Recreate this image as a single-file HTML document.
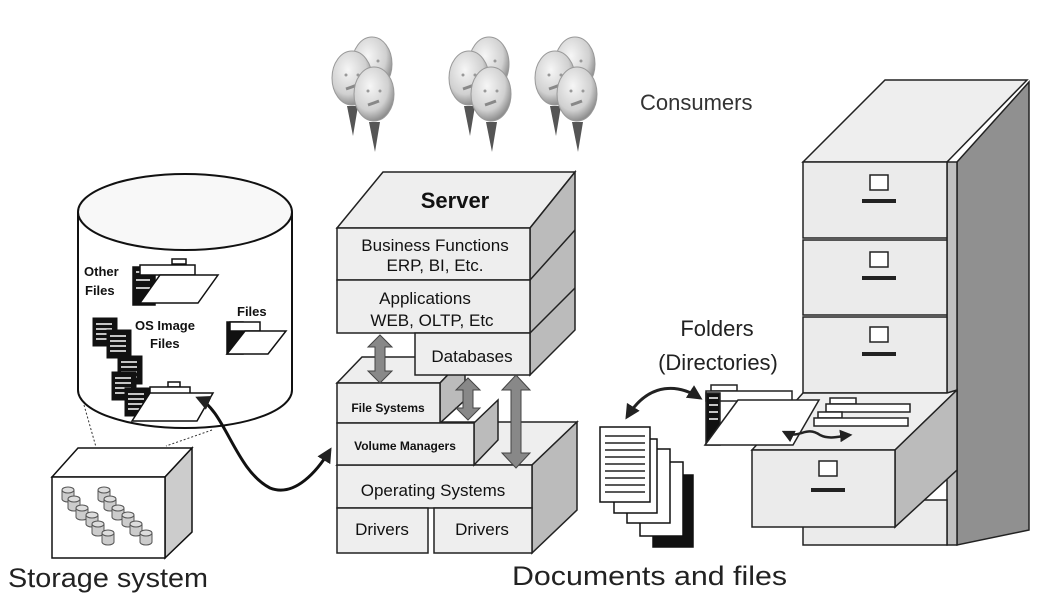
<!DOCTYPE html>
<html><head><meta charset="utf-8"><style>
html,body{margin:0;padding:0;background:#fff;}
svg{display:block;font-family:"Liberation Sans",Arial,sans-serif;}
</style></head><body>
<svg width="1057" height="608" viewBox="0 0 1057 608" xmlns="http://www.w3.org/2000/svg">
<defs>
<radialGradient id="bal" cx="40%" cy="35%" r="70%">
<stop offset="0" stop-color="#f6f6f6"/><stop offset="0.65" stop-color="#d0d0d0"/><stop offset="1" stop-color="#808080"/>
</radialGradient>
<marker id="ah" viewBox="0 0 10 10" refX="8" refY="5" markerWidth="5" markerHeight="5" orient="auto-start-reverse">
<path d="M0,0 L10,5 L0,10 z" fill="#222"/></marker>
<g id="balloon">
<path d="M-5,28 L1,58 L6,28 z" fill="#555"/>
<ellipse cx="0" cy="0" rx="20" ry="27" fill="url(#bal)" stroke="#999" stroke-width="1"/>
<circle cx="-6" cy="-3" r="1.5" fill="#999"/><circle cx="6" cy="-3" r="1.5" fill="#999"/>
<path d="M-6,11 Q0,9 5,7" stroke="#888" stroke-width="3" fill="none"/>
</g>
<g id="grp">
<use href="#balloon" x="42" y="14"/>
<use href="#balloon" x="22" y="28"/>
<use href="#balloon" x="44" y="44"/>
</g>
<g id="can"><path d="M0,3 v9 a6,3 0 0 0 12,0 v-9" fill="#ccc" stroke="#555"/><ellipse cx="6" cy="3" rx="6" ry="3" fill="#ddd" stroke="#555"/></g>
<g id="doc"><rect width="24" height="28" fill="#111" stroke="#111"/><path d="M3,6h16M3,11h16M3,16h16M3,21h16" stroke="#fff" stroke-width="1.5"/></g>
</defs>

<use href="#grp" x="330" y="50"/>
<use href="#grp" x="447" y="50"/>
<use href="#grp" x="533" y="50"/>
<text x="640" y="110" font-size="22" fill="#333">Consumers</text>

<!-- cylinder -->
<path d="M78,212 V390 A107,38 0 0 0 292,390 V212" fill="#fff" stroke="#111" stroke-width="2"/>
<ellipse cx="185" cy="212" rx="107" ry="38" fill="#f8f8f8" stroke="#111" stroke-width="2"/>
<g stroke="#111" stroke-width="1.5">
<rect x="172" y="259" width="14" height="5" fill="#fff"/>
<rect x="133" y="267" width="22" height="38" fill="#111"/>
<path d="M136,272h14M136,280h14M136,288h14" stroke="#fff"/>
<rect x="140" y="265" width="55" height="10" fill="#fff"/>
<path d="M140,303 L160,275 L218,275 L198,303 z" fill="#fff"/>
</g>
<use href="#doc" x="93" y="318"/>
<use href="#doc" x="107" y="330"/>
<use href="#doc" x="118" y="356"/>
<use href="#doc" x="112" y="372"/>
<use href="#doc" x="125" y="388"/>
<g stroke="#111" stroke-width="1.5">
<rect x="168" y="382" width="12" height="5" fill="#fff"/>
<rect x="150" y="387" width="40" height="8" fill="#fff"/>
<path d="M132,421 L150,393 L213,393 L197,421 z" fill="#fff"/>
<rect x="227" y="322" width="16" height="32" fill="#111"/>
<rect x="230" y="322" width="30" height="9" fill="#fff"/>
<path d="M227,354 L245,331 L286,331 L268,354 z" fill="#fff"/>
</g>
<g font-weight="bold" font-size="13" fill="#111">
<text x="84" y="276">Other</text><text x="85" y="295">Files</text>
<text x="135" y="330">OS Image</text><text x="150" y="348">Files</text>
<text x="237" y="316">Files</text>
</g>
<path d="M84,405 L96,447 M212,430 L166,446" stroke="#333" stroke-dasharray="2,2" fill="none"/>
<path d="M52,477 L78,448 L192,448 L165,477 z" fill="#fff" stroke="#111" stroke-width="1.5"/>
<path d="M165,477 L192,448 L192,532 L165,558 z" fill="#ccc" stroke="#111" stroke-width="1.5"/>
<rect x="52" y="477" width="113" height="81" fill="#fff" stroke="#111" stroke-width="1.5"/>
<use href="#can" x="62" y="487"/><use href="#can" x="68" y="496"/><use href="#can" x="76" y="505"/><use href="#can" x="86" y="512"/><use href="#can" x="92" y="521"/><use href="#can" x="102" y="530"/>
<use href="#can" x="98" y="487"/><use href="#can" x="104" y="496"/><use href="#can" x="112" y="505"/><use href="#can" x="122" y="512"/><use href="#can" x="130" y="521"/><use href="#can" x="140" y="530"/>
<text x="8" y="587" font-size="27" fill="#222" textLength="200" lengthAdjust="spacingAndGlyphs">Storage system</text>

<path d="M198,398 C225,410 235,470 270,488 C295,498 318,470 330,450" fill="none" stroke="#111" stroke-width="3" marker-start="url(#ah)" marker-end="url(#ah)"/>

<g stroke="#222" stroke-width="1.5">
<path d="M337,465 L382,422 L577,422 L532,465 z" fill="#eee"/>
<path d="M532,465 L577,422 L577,510 L532,553 z" fill="#bbb"/>
<rect x="337" y="465" width="195" height="43" fill="#eee"/>
<rect x="337" y="508" width="91" height="45" fill="#eee"/>
<rect x="434" y="508" width="98" height="45" fill="#eee"/>
<path d="M337,383 L362,357 L465,357 L440,383 z" fill="#eee"/>
<path d="M440,383 L465,357 L465,400 L440,423 z" fill="#bbb"/>
<path d="M474,423 L498,400 L498,440 L474,465 z" fill="#bbb"/>
<rect x="337" y="383" width="103" height="40" fill="#eee"/>
<rect x="337" y="423" width="137" height="42" fill="#eee"/>
<path d="M337,228 L383,172 L575,172 L530,228 z" fill="#eee"/>
<path d="M530,228 L575,172 L575,330 L530,375 z" fill="#bbb"/>
<rect x="337" y="228" width="193" height="52" fill="#eee"/>
<rect x="337" y="280" width="193" height="53" fill="#eee"/>
<rect x="415" y="333" width="115" height="42" fill="#eee"/>
<path d="M530,280 L575,230 M530,333 L575,288" fill="none"/>
</g>
<g fill="#888" stroke="#444" stroke-width="1">
<path d="M380,335 L392,347 L385,347 L385,371 L392,371 L380,383 L368,371 L375,371 L375,347 L368,347 z"/>
<path d="M468,378 L480,390 L473,390 L473,408 L480,408 L468,420 L456,408 L463,408 L463,390 L456,390 z"/>
<path d="M516,375 L530,390 L521,390 L521,453 L530,453 L516,468 L502,453 L511,453 L511,390 L502,390 z"/>
</g>
<g fill="#111" text-anchor="middle">
<text x="455" y="208" font-size="22" font-weight="bold">Server</text>
<text x="435" y="251" font-size="17">Business Functions</text>
<text x="435" y="271" font-size="17">ERP, BI, Etc.</text>
<text x="425" y="304" font-size="17">Applications</text>
<text x="432" y="326" font-size="17">WEB, OLTP, Etc</text>
<text x="472" y="362" font-size="17">Databases</text>
<text x="388" y="412" font-size="12" font-weight="bold">File Systems</text>
<text x="405" y="450" font-size="12" font-weight="bold">Volume Managers</text>
<text x="433" y="496" font-size="17">Operating Systems</text>
<text x="382" y="535" font-size="17">Drivers</text>
<text x="482" y="535" font-size="17">Drivers</text>
</g>

<g stroke="#111" stroke-width="1.5">
<rect x="653" y="475" width="40" height="72" fill="#111"/>
<rect x="640" y="462" width="43" height="74" fill="#fff"/>
<rect x="627" y="449" width="43" height="74" fill="#fff"/>
<rect x="614" y="439" width="43" height="74" fill="#fff"/>
<rect x="600" y="427" width="50" height="75" fill="#fff"/>
</g>
<g stroke="#222" stroke-width="1.5">
<path d="M605,436h40M605,443h40M605,450h40M605,457h40M605,464h40M605,471h40M605,478h40M605,485h40M605,492h40"/>
</g>
<text x="512" y="585" font-size="27" fill="#222" textLength="275" lengthAdjust="spacingAndGlyphs">Documents and files</text>

<g stroke="#222" stroke-width="1.5">
<path d="M803,162 L885,80 L1027,80 L947,162 z" fill="#eee"/>
<path d="M957,162 L1029,82 L1029,530 L957,545 z" fill="#909090"/>
<rect x="947" y="162" width="10" height="383" fill="#c0c0c0"/>
<rect x="803" y="162" width="144" height="76" fill="#ebebeb"/>
<rect x="803" y="240" width="144" height="75" fill="#ebebeb"/>
<rect x="803" y="317" width="144" height="76" fill="#ebebeb"/>
<rect x="803" y="500" width="144" height="45" fill="#ebebeb"/>
<path d="M803,393 L947,393 L957,390 L895,450 L752,450 z" fill="#eee"/>
<path d="M895,450 L957,390 L957,470 L895,527 z" fill="#bbb"/>
<rect x="752" y="450" width="143" height="77" fill="#ebebeb"/>
<rect x="870" y="175" width="18" height="15" fill="#fff"/>
<rect x="870" y="252" width="18" height="15" fill="#fff"/>
<rect x="870" y="327" width="18" height="15" fill="#fff"/>
<rect x="819" y="461" width="18" height="15" fill="#fff"/>
<rect x="830" y="398" width="26" height="6" fill="#fff"/>
<rect x="826" y="404" width="84" height="8" fill="#fff"/>
<rect x="818" y="412" width="24" height="6" fill="#fff"/>
<rect x="814" y="418" width="94" height="8" fill="#fff"/>
<rect x="711" y="385" width="26" height="6" fill="#fff"/>
<rect x="706" y="391" width="86" height="10" fill="#fff"/>
<rect x="706" y="393" width="14" height="52" fill="#111"/>
<path d="M709,398h9M709,405h9M709,412h9M709,419h9" stroke="#fff"/>
<path d="M705,445 L738,400 L819,400 L793,445 z" fill="#fff"/>
</g>
<g fill="#222">
<rect x="862" y="199" width="34" height="4"/>
<rect x="862" y="276" width="34" height="4"/>
<rect x="862" y="352" width="34" height="4"/>
<rect x="811" y="488" width="34" height="4"/>
</g>
<path d="M627,417 C650,380 680,385 700,398" fill="none" stroke="#222" stroke-width="3" marker-start="url(#ah)" marker-end="url(#ah)"/>
<path d="M784,432 C800,440 805,425 820,435 C830,440 840,436 850,435" fill="none" stroke="#222" stroke-width="2.5" marker-start="url(#ah)" marker-end="url(#ah)"/>
<text x="717" y="336" font-size="22" fill="#222" text-anchor="middle">Folders</text>
<text x="718" y="370" font-size="22" fill="#222" text-anchor="middle">(Directories)</text>
</svg>
</body></html>
